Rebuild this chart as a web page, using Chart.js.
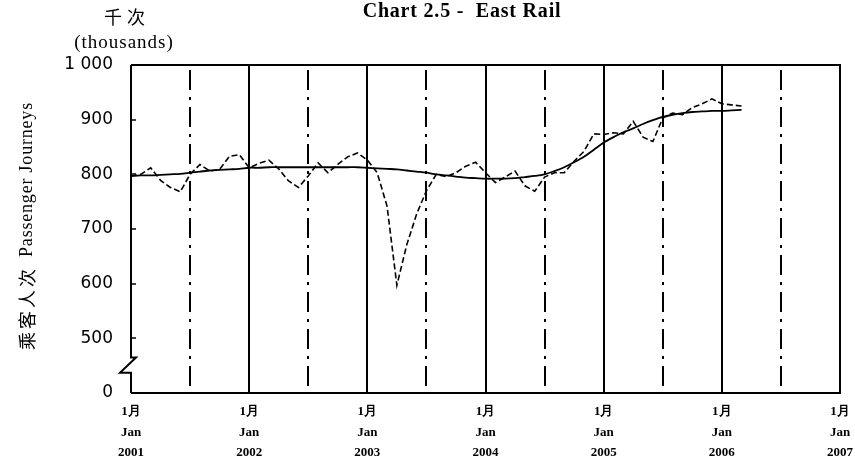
<!DOCTYPE html>
<html><head><meta charset="utf-8">
<script src="https://cdn.jsdelivr.net/npm/chart.js@4.4.0/dist/chart.umd.min.js"></script>
<style>html,body{margin:0;padding:0;background:#fff}#wrap{width:855px;height:463px;position:relative}</style>
</head><body><div id="wrap"><canvas id="c" width="855" height="463"></canvas></div>
<script>
// ---- data ----
const yearLabels = ['2001','2002','2003','2004','2005','2006','2007'];
const monthWord = '1月';
const janWord = 'Jan';
// monthly passenger journeys (thousands), Jan 2001 - Mar 2006
const journeys = [
 797, 800, 812, 789, 776, 768, 800, 818, 806, 809, 833, 836,
 812, 820, 826, 810, 788, 776, 797, 821, 803, 818, 832, 839,
 826, 803, 742, 597, 671, 727, 770, 800, 796, 803, 815, 822,
 803, 785, 795, 806, 779, 769, 795, 803, 803, 824, 842, 874,
 873, 876, 874, 897, 868, 860, 903, 912, 909, 922, 929, 938,
 929, 927, 925
];
// trend-cycle
const trend = [
 797, 798, 798, 799, 800, 801, 803, 805, 807, 808, 809, 810,
 812, 812, 813, 813, 813, 813, 813, 813, 813, 813, 813, 813,
 812, 811, 810, 809, 807, 805, 803, 800, 798, 796, 794, 793,
 792, 792, 792, 793, 795, 797, 800, 806, 813, 822, 832, 845,
 858, 868, 877, 884, 892, 899, 905, 909, 912, 914, 915, 916,
 916, 917, 918
];
const yTickValues = [400, 500, 600, 700, 800, 900, 1000];
const yTickLabels = ['0', '500', '600', '700', '800', '900', '1 000'];
const titleText = 'Chart 2.5 -  East Rail';
const unitCn = '千次';
const unitEn = '(thousands)';
const yTitleCn = '乘客人次';
const yTitleEn = 'Passenger Journeys';

const toXY = arr => arr.map((v, i) => ({x: i, y: v}));

const decor = {
  id: 'decor',
  beforeDatasetsDraw(chart) {
    const {ctx, chartArea: a, scales: {x}} = chart;
    ctx.save();
    ctx.strokeStyle = '#000';
    ctx.lineWidth = 2;
    ctx.setLineDash([20, 7, 3, 7]);
    for (let m = 6; m < 72; m += 12) {
      const px = Math.round(x.getPixelForValue(m));
      ctx.beginPath(); ctx.moveTo(px, a.top + 5); ctx.lineTo(px, a.bottom); ctx.stroke();
    }
    ctx.setLineDash([]);
    for (let m = 12; m < 72; m += 12) {
      const px = Math.round(x.getPixelForValue(m));
      ctx.beginPath(); ctx.moveTo(px, a.top); ctx.lineTo(px, a.bottom); ctx.stroke();
    }
    ctx.restore();
  },
  afterDatasetsDraw(chart) {
    const {ctx, chartArea: a, scales: {y}} = chart;
    ctx.save();
    ctx.strokeStyle = '#000';
    ctx.lineWidth = 2;
    ctx.setLineDash([]);
    ctx.beginPath();
    ctx.moveTo(a.left, a.top); ctx.lineTo(a.right, a.top); ctx.lineTo(a.right, a.bottom); ctx.lineTo(a.left, a.bottom);
    ctx.stroke();
    const b1 = y.getPixelForValue(465), b2 = y.getPixelForValue(437);
    ctx.beginPath();
    ctx.moveTo(a.left, a.top); ctx.lineTo(a.left, b1); ctx.lineTo(a.left + 5, b1);
    ctx.lineTo(a.left - 11, b2); ctx.lineTo(a.left, b2); ctx.lineTo(a.left, a.bottom);
    ctx.stroke();
    ctx.lineWidth = 1.5;
    for (let i = 1; i < yTickValues.length - 1; i++) {
      const py = Math.round(y.getPixelForValue(yTickValues[i]));
      ctx.beginPath(); ctx.moveTo(a.left, py); ctx.lineTo(a.left + 5, py); ctx.stroke();
    }
    ctx.restore();
  },
  afterDraw(chart) {
    const {ctx} = chart;
    ctx.save();
    ctx.fillStyle = '#000';
    ctx.textBaseline = 'middle';
    ctx.textAlign = 'center';
    ctx.font = 'bold 20px "Liberation Serif"';
    ctx.letterSpacing = '0.8px';
    ctx.fillText(titleText, 462, 12);
    ctx.font = '18px "Noto Sans CJK SC"';
    ctx.letterSpacing = '5px';
    ctx.fillText(unitCn, 127, 17);
    ctx.letterSpacing = '1px';
    ctx.font = '19px "Liberation Serif"';
    ctx.fillText(unitEn, 124, 43);
    // rotated y title
    ctx.translate(27, 226);
    ctx.rotate(-Math.PI / 2);
    const fCn = '18px "Noto Sans CJK SC"', fEn = '18px "Liberation Serif"';
    ctx.font = fCn; ctx.letterSpacing = '3px'; const wCn = ctx.measureText(yTitleCn).width;
    ctx.font = fEn; ctx.letterSpacing = '0.8px'; const wEn = ctx.measureText(yTitleEn).width;
    const gap = 9, tot = wCn + gap + wEn;
    ctx.textAlign = 'left';
    ctx.font = fCn; ctx.letterSpacing = '3px'; ctx.fillText(yTitleCn, -tot / 2, 0);
    ctx.font = fEn; ctx.letterSpacing = '0.8px'; ctx.fillText(yTitleEn, -tot / 2 + wCn + gap, 0);
    ctx.restore();
  }
};

new Chart(document.getElementById('c'), {
  type: 'line',
  data: {
    datasets: [
      { label: 'Passenger journeys', data: toXY(journeys), borderColor: '#000', borderWidth: 1.6,
        borderDash: [6, 3], pointRadius: 0, tension: 0, fill: false },
      { label: 'Trend', data: toXY(trend), borderColor: '#000', borderWidth: 1.8,
        pointRadius: 0, tension: 0.3, fill: false }
    ]
  },
  options: {
    responsive: false,
    animation: false,
    layout: { padding: { top: 65, right: 15, left: 0, bottom: 0 } },
    plugins: { legend: { display: false }, tooltip: { enabled: false }, title: { display: false } },
    scales: {
      x: {
        type: 'linear', min: 0, max: 72,
        afterBuildTicks: s => { s.ticks = yearLabels.map((_, i) => ({ value: i * 12 })); },
        afterFit: s => { s.height = 70; s.paddingLeft = 0; s.paddingRight = 0; },
        grid: { display: false, drawTicks: false },
        border: { display: false },
        ticks: {
          autoSkip: false, maxRotation: 0, padding: 9,
          color: '#000',
          font: { family: '"Liberation Serif"', size: 13, weight: 'bold', lineHeight: 1.55 },
          callback: (v) => [monthWord, janWord, yearLabels[Math.round(v / 12)]]
        }
      },
      y: {
        type: 'linear', min: 400, max: 1000,
        afterBuildTicks: s => { s.ticks = yTickValues.map(v => ({ value: v })); },
        afterFit: s => { s.width = 131; },
        grid: { display: false, drawTicks: false },
        border: { display: false },
        ticks: {
          padding: 18, color: '#000',
          font: { family: '"DejaVu Sans"', size: 17 },
          callback: (v) => yTickLabels[yTickValues.indexOf(v)]
        }
      }
    }
  },
  plugins: [decor]
});
</script>
</body></html>
